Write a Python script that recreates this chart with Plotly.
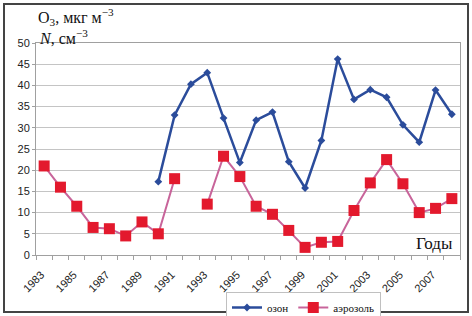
import plotly.graph_objects as go

years = list(range(1983, 2009))
ozone = [None, None, None, None, None, None, None, 17.3, 33.0, 40.3, 43.0, 32.3, 21.8,
         31.8, 33.7, 22.0, 15.8, 27.0, 46.2, 36.7, 39.0, 37.2, 30.7, 26.6, 38.9, 33.2]
aerosol = [21.0, 16.0, 11.5, 6.5, 6.2, 4.5, 7.8, 5.0, 18.0, None, 12.0, 23.3, 18.5,
           11.5, 9.6, 5.8, 1.8, 3.0, 3.2, 10.5, 17.0, 22.5, 16.8, 10.0, 11.0, 13.3]
tick_years = list(range(1983, 2009, 2))
y_ticks = list(range(0, 51, 5))

fig = go.Figure()
fig.add_trace(go.Scatter(
    x=years, y=ozone, name="озон", mode="lines+markers",
    line=dict(color="#2b4c9b", width=2.5),
    marker=dict(symbol="diamond", size=6, color="#2b4c9b"),
    connectgaps=False,
))
fig.add_trace(go.Scatter(
    x=years, y=aerosol, name="аэрозоль", mode="lines+markers",
    line=dict(color="#c8649a", width=2),
    marker=dict(symbol="square", size=11, color="#e3192d"),
    connectgaps=False,
))

L, R, T, B = 36, 12, 43, 61
W, H = 472, 316
pw, ph = W - L - R, H - T - B

fig.update_layout(
    width=W, height=H,
    margin=dict(l=L, r=R, t=T, b=B, autoexpand=False),
    paper_bgcolor="white", plot_bgcolor="white",
    showlegend=True,
    legend=dict(
        orientation="h", xref="container", yref="container",
        x=226 / W, y=1 - 292 / H,
        xanchor="left", yanchor="top",
        bordercolor="#c0c0c0", borderwidth=1,
        font=dict(family="Liberation Serif", size=11, color="#111"),
        itemwidth=30, tracegroupgap=0,
    ),
    font=dict(family="Liberation Sans", size=11, color="#222"),
)
fig.update_xaxes(
    range=[1982.5, 2008.5], tickmode="array", tickvals=tick_years,
    ticktext=[str(y) for y in tick_years], tickangle=-45, automargin=False,
    ticklabelstandoff=8, ticklabelshift=-3,
    showgrid=False, showline=True, linecolor="#a0a0a0", linewidth=1, mirror=True,
    ticks="", zeroline=False,
    minor=dict(tickmode="linear", tick0=1982.5, dtick=1, ticks="outside",
               ticklen=4, tickcolor="#a0a0a0", showgrid=False),
    tickfont=dict(family="Liberation Sans", size=11, color="#222"),
)
fig.update_yaxes(
    range=[0, 50], tickmode="array", tickvals=y_ticks, automargin=False,
    showgrid=True, gridcolor="#c4c4c4", gridwidth=1,
    showline=True, linecolor="#a0a0a0", linewidth=1, mirror=True,
    ticks="outside", ticklen=3, tickcolor="#a0a0a0", zeroline=False,
    tickfont=dict(family="Liberation Sans", size=11, color="#222"),
)

# outer frame
fig.add_shape(type="rect", xref="paper", yref="paper",
              x0=(4 - L) / pw, x1=(468 - L) / pw,
              y0=(255 - 312) / ph, y1=(255 - 4) / ph,
              line=dict(color="#444", width=2), layer="below")

fig.add_annotation(xref="paper", yref="paper", x=(36 - L) / pw, y=(255 - 17) / ph,
                   xanchor="left", yanchor="middle", showarrow=False,
                   text="O<sub>3</sub>, мкг м<sup>−3</sup>",
                   font=dict(family="Liberation Serif", size=16, color="#111"))
fig.add_annotation(xref="paper", yref="paper", x=(37 - L) / pw, y=(255 - 37) / ph,
                   xanchor="left", yanchor="middle", showarrow=False,
                   text="<i>N</i>, см<sup>−3</sup>",
                   font=dict(family="Liberation Serif", size=16, color="#111"))
fig.add_annotation(xref="paper", yref="paper", x=(455 - L) / pw, y=(255 - 243) / ph,
                   xanchor="right", yanchor="middle", showarrow=False,
                   text="Годы",
                   font=dict(family="Liberation Serif", size=17, color="#111"))

fig.write_html("out.html", config={"displayModeBar": False},
               post_script="document.body.style.margin='0';document.body.style.overflow='hidden';")
